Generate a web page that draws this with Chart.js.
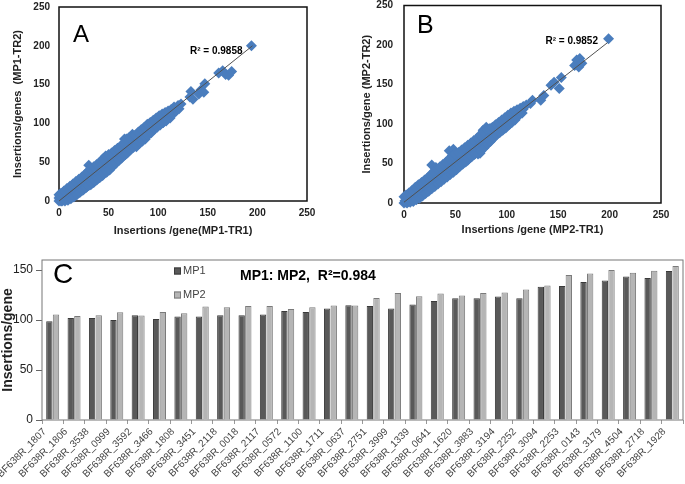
<!DOCTYPE html>
<html>
<head>
<meta charset="utf-8">
<script src="https://cdn.jsdelivr.net/npm/chart.js@4.4.1/dist/chart.umd.min.js"></script>
<style>
  html, body { margin: 0; padding: 0; background: #fff; }
  body { width: 685px; height: 484px; position: relative; overflow: hidden; }
  canvas { position: absolute; }
</style>
</head>
<body>
<canvas id="chartA" width="340" height="245" style="left:0;top:0"></canvas>
<canvas id="chartB" width="345" height="245" style="left:340px;top:0"></canvas>
<canvas id="chartC" width="685" height="234" style="left:0;top:250px"></canvas>
<script>
// valores
const pointsA = [
  [0,0],[1,2],[2,0],[0,4],[3,3],[1,6],[4,1],[5,6],[6,3],[7,9],[8,5],[9,12],[10,7],[11,15],[12,9],[13,5],
  [14,16],[15,12],[16,8],[17,19],[18,14],[19,11],[20,23],[21,17],[22,13],[23,26],[24,20],[25,15],[26,28],
  [27,22],[28,18],[29,31],[30,46],[31,25],[32,21],[33,34],[34,28],[35,24],[36,40],[37,31],[38,27],[39,43],
  [40,35],[41,30],[42,47],[43,38],[44,33],[45,52],[46,42],[47,57],[48,37],[49,51],[50,45],[51,40],[52,56],
  [53,49],[54,44],[55,60],[56,53],[57,48],[58,62],[59,56],[60,52],[61,66],[62,59],[63,55],[64,68],[65,62],
  [66,80],[67,60],[68,74],[69,67],[70,80],[71,65],[72,77],[73,70],[74,84],[75,72],[76,82],[77,74],[78,70],
  [79,85],[80,78],[81,74],[82,88],[83,81],[84,77],[85,92],[86,85],[87,80],[88,94],[89,87],[90,88],[91,96],
  [92,90],[93,92],[94,100],[95,95],[96,93],[97,104],[98,99],[99,96],[100,105],[101,101],[102,99],[103,107],
  [104,103],[105,101],[106,109],[107,105],[108,104],[110,112],[111,108],[112,107],[114,115],[115,112],
  [117,119],[118,116],[120,123],[121,119],[123,125],[132,134],[133,141],[135,131],[141,138],[143,143],
  [146,140],[147,151],[161,165],[165,168],[168,163],[171,162],[174,167],[194,200],
  // borda inferior e superior da nuvem
  [3,0],[6,0],[9,1],[12,3],[15,5],[18,8],[21,11],[24,14],[27,17],[30,20],[33,23],[36,26],[39,29],[42,32],
  [45,35],[48,38],[51,41],[54,45],[57,49],[60,52],[63,56],[66,59],[69,62],[72,66],[75,69],[78,72],[81,75],
  [84,78],[87,82],[90,85],[93,88],[96,92],[99,95],[102,98],[105,101],[108,103],
  [0,8],[2,10],[5,13],[8,16],[11,19],[14,22],[17,25],[20,28],[23,31],[26,34],[29,38],[32,42],[35,44],
  [38,47],[41,50],[44,54],[47,58],[50,60],[53,62],[56,65],[59,68],[62,71],[65,74],[68,80],[71,82],[74,86],
  [77,85],[80,89],[83,92],[86,95],[89,99],[92,101],[95,104],[98,107],[101,110],[104,112],[107,114],
  [110,116],[113,118],[116,121]
];
const pointsB = [
  [0,0],[1,3],[2,1],[3,5],[2,7],[4,2],[5,6],[6,10],[7,4],[8,12],[9,8],[10,15],[11,7],[12,13],[13,18],
  [14,10],[15,16],[16,21],[17,13],[18,19],[19,24],[20,15],[21,22],[22,27],[23,18],[24,25],[25,31],[26,21],
  [27,48],[28,28],[29,34],[30,24],[31,45],[32,31],[33,37],[34,28],[35,42],[36,34],[37,40],[38,31],[39,46],
  [40,37],[41,43],[42,34],[43,49],[44,66],[45,40],[46,52],[47,45],[48,68],[49,43],[50,56],[51,49],[52,62],
  [53,46],[54,58],[55,52],[56,63],[57,50],[58,61],[59,55],[60,67],[61,58],[62,54],[63,70],[64,62],[65,58],
  [66,73],[67,66],[68,61],[69,76],[70,69],[71,64],[72,79],[73,72],[74,63],[75,82],[76,75],[77,92],[78,71],
  [79,85],[80,96],[81,77],[82,90],[83,84],[84,94],[85,80],[86,93],[87,88],[88,85],[89,96],[90,91],[91,88],
  [92,99],[93,94],[94,91],[95,101],[96,97],[97,94],[98,104],[99,100],[100,97],[101,107],[102,103],[103,100],
  [104,110],[105,106],[107,111],[108,107],[110,114],[112,111],[113,117],[115,114],[116,119],[123,126],
  [125,130],[133,130],[136,136],[143,149],[146,153],[151,145],[153,159],[166,174],[168,181],[170,172],
  [171,183],[173,177],[199,208],
  // borda inferior e superior da nuvem
  [3,0],[6,1],[9,2],[12,4],[15,6],[18,9],[21,12],[24,15],[27,18],[30,21],[33,24],[36,27],[39,30],[42,33],
  [45,36],[48,39],[51,42],[54,46],[57,49],[60,52],[63,56],[66,59],[69,62],[72,62],[75,66],[78,70],[81,74],
  [84,78],[87,82],[90,86],[93,89],[96,92],[99,95],[102,99],[105,102],[108,105],
  [0,8],[2,10],[5,13],[8,16],[11,20],[14,23],[17,26],[20,29],[23,32],[26,36],[29,40],[32,43],[35,46],
  [38,49],[41,52],[44,56],[47,60],[50,62],[53,64],[56,67],[59,70],[62,73],[65,76],[68,79],[71,82],[74,86],
  [77,90],[80,93],[83,94],[86,96],[89,99],[92,102],[95,105],[98,108],[101,111],[104,114],[107,116],
  [110,118],[113,120],[116,122],[119,124]
];
const trendA = [[0, 0], [195, 200]];
const trendB = [[0, 1], [198, 203]];

const genes = [
  'BF638R_1807', 'BF638R_1806', 'BF638R_3538', 'BF638R_0999', 'BF638R_3592', 'BF638R_3466',
  'BF638R_1808', 'BF638R_3451', 'BF638R_2118', 'BF638R_0018', 'BF638R_2117', 'BF638R_0572',
  'BF638R_1100', 'BF638R_1711', 'BF638R_0637', 'BF638R_2751', 'BF638R_3999', 'BF638R_1339',
  'BF638R_0641', 'BF638R_1620', 'BF638R_3883', 'BF638R_3194', 'BF638R_2252', 'BF638R_3094',
  'BF638R_2253', 'BF638R_0143', 'BF638R_3179', 'BF638R_4504', 'BF638R_2718', 'BF638R_1928'
];
const mp1 = [98.7, 102, 102, 100, 104.7, 101, 103.4, 103.4, 104.7, 104.7, 105.4, 109, 108, 111.4, 114.8,
             114, 111.4, 115.4, 119, 121.8, 121.8, 123.5, 121.8, 133.2, 134, 138, 139.6, 143.6, 142, 149];
const mp2 = [105.4, 104, 104.7, 107.7, 104.4, 108, 106.7, 113.4, 112.8, 114, 114, 111, 112.8, 114.4, 114.4,
             122, 127, 123.8, 126.5, 124.5, 127, 127.5, 130.5, 134.6, 145, 146.6, 150, 147.3, 149.3, 154];
const yTicksC = [0, 50, 100, 150];

const FAMILY = '"Liberation Sans", Arial, sans-serif';
Chart.defaults.font.family = FAMILY;
Chart.defaults.color = '#222';

// moldura em volta da área do gráfico
function frame(color, width) {
    return {
        id: 'frame',
        beforeDatasetsDraw(chart) {
            const { ctx, chartArea: a } = chart;
            ctx.save();
            ctx.strokeStyle = color;
            ctx.lineWidth = width;
            ctx.strokeRect(a.left, a.top, a.right - a.left, a.bottom - a.top);
            ctx.restore();
        }
    };
}

// textos soltos (letra do painel, R²)
function notes(items) {
    return {
        id: 'notes',
        afterDraw(chart) {
            const { ctx, chartArea: a, scales } = chart;
            ctx.save();
            items.forEach(n => {
                let x, y;
                if (n.data) {
                    x = scales.x.getPixelForValue(n.x);
                    y = scales.y.getPixelForValue(n.y);
                } else {
                    x = a.left + n.x;
                    y = a.top + n.y;
                }
                ctx.font = n.font;
                ctx.fillStyle = n.color || '#000';
                ctx.textAlign = n.align || 'left';
                ctx.textBaseline = n.baseline || 'alphabetic';
                ctx.fillText(n.text, x, y);
            });
            ctx.restore();
        }
    };
}

function makeScatter(id, pts, trend, o) {
    new Chart(document.getElementById(id), {
        type: 'scatter',
        data: {
            datasets: [
                {
                    type: 'line',
                    data: trend.map(p => ({ x: p[0], y: p[1] })),
                    borderColor: '#505050',
                    borderWidth: 1,
                    pointRadius: 0,
                    showLine: true,
                    fill: false,
                    clip: false
                },
                {
                    data: pts.map(p => ({ x: p[0], y: p[1] })),
                    pointStyle: 'rectRot',
                    pointRadius: 5.5,
                    backgroundColor: '#4a7dbd',
                    borderColor: '#4a7dbd',
                    borderWidth: 0,
                    clip: false
                }
            ]
        },
        options: {
            responsive: false,
            animation: false,
            devicePixelRatio: 1,
            layout: { padding: { top: o.top, right: o.right, left: 0, bottom: 0 } },
            plugins: { legend: { display: false }, tooltip: { enabled: false } },
            scales: {
                x: {
                    type: 'linear', min: 0, max: 250,
                    ticks: { stepSize: 50, padding: 6, font: { size: 10, weight: 'bold' } },
                    grid: { display: false, drawTicks: false },
                    border: { display: false },
                    title: {
                        display: true, text: o.xTitle,
                        font: { size: 11, weight: 'bold' },
                        padding: { top: 0, bottom: o.xtPad }
                    },
                    afterFit(s) { s.height = o.xh; s.paddingLeft = 0; s.paddingRight = 0; }
                },
                y: {
                    type: 'linear', min: 0, max: 250,
                    ticks: { stepSize: 50, padding: o.ytick, font: { size: 10, weight: 'bold' } },
                    grid: { display: false, drawTicks: false },
                    border: { display: false },
                    title: {
                        display: true, text: o.yTitle,
                        font: { size: 11, weight: 'bold' },
                        padding: { top: o.ytPad, bottom: 0 }
                    },
                    afterFit(s) { s.width = o.yw; s.paddingTop = 0; s.paddingBottom = 0; }
                }
            }
        },
        plugins: [frame('#111', 1.5), notes(o.notes)]
    });
}

makeScatter('chartA', pointsA, trendA, {
    top: 7, right: 33, xh: 44, yw: 59, xtPad: 7.4, ytPad: 11.4, ytick: 9,
    xTitle: 'Insertions /gene(MP1-TR1)',
    yTitle: 'Insertions/genes  (MP1-TR2)',
    notes: [
        { data: true, x: 14, y: 205, text: 'A', font: '24px ' + FAMILY },
        { data: true, x: 185, y: 193, text: 'R² = 0.9858', font: 'bold 10px ' + FAMILY, align: 'right', baseline: 'middle' }
    ]
});

makeScatter('chartB', pointsB, trendB, {
    top: 5, right: 24, xh: 42, yw: 64, xtPad: 8.4, ytPad: 20, ytick: 11,
    xTitle: 'Insertions /gene (MP2-TR1)',
    yTitle: 'Insertions/gene (MP2-TR2)',
    notes: [
        { data: true, x: 12.6, y: 214.6, text: 'B', font: '25px ' + FAMILY },
        { data: true, x: 188.7, y: 204.5, text: 'R² = 0.9852', font: 'bold 10px ' + FAMILY, align: 'right', baseline: 'middle' }
    ]
});

// legenda desenhada dentro da área do gráfico C
const legendC = {
    id: 'legendC',
    afterDraw(chart) {
        const { ctx, chartArea: a } = chart;
        ctx.save();
        ctx.font = '11px ' + FAMILY;
        ctx.textBaseline = 'middle';
        chart.data.datasets.forEach((ds, i) => {
            const x = a.left + 132, y = a.top + 11 + i * 24;
            ctx.fillStyle = ds.backgroundColor;
            ctx.fillRect(x, y - 3.5, 7, 7);
            ctx.strokeStyle = ds.borderColor;
            ctx.lineWidth = 1;
            ctx.strokeRect(x + 0.5, y - 3, 6, 6);
            ctx.fillStyle = '#444';
            ctx.fillText(ds.label, x + 9, y);
        });
        ctx.restore();
    }
};

new Chart(document.getElementById('chartC'), {
    type: 'bar',
    data: {
        labels: genes,
        datasets: [
            { label: 'MP1', data: mp1, backgroundColor: '#595959', borderColor: '#3a3a3a', borderWidth: 1 },
            { label: 'MP2', data: mp2, backgroundColor: '#b5b5b5', borderColor: '#7a7a7a', borderWidth: 1 }
        ]
    },
    options: {
        responsive: false,
        animation: false,
        devicePixelRatio: 1,
        datasets: { bar: { categoryPercentage: 0.62, barPercentage: 0.96 } },
        layout: { padding: { top: 10, right: 2, left: 0, bottom: 0 } },
        plugins: { legend: { display: false }, tooltip: { enabled: false } },
        scales: {
            x: {
                ticks: {
                    autoSkip: false, maxRotation: 45, minRotation: 45,
                    color: '#444', font: { size: 10 }, padding: 2, labelOffset: -8
                },
                grid: { offset: true, drawOnChartArea: false, tickLength: 4, color: '#999' },
                border: { display: false },
                afterFit(s) { s.height = 64; s.paddingLeft = 0; s.paddingRight = 0; }
            },
            y: {
                min: 0, max: 160,
                ticks: { font: { size: 12 }, padding: 3 },
                grid: { drawOnChartArea: false, tickLength: 6, color: '#666' },
                border: { display: false },
                title: {
                    display: true, text: 'Insertions/gene',
                    font: { size: 14, weight: 'bold' },
                    padding: { top: 0, bottom: 0 }
                },
                afterBuildTicks(s) { s.ticks = yTicksC.map(v => ({ value: v })); },
                afterFit(s) { s.width = 42; s.paddingTop = 0; s.paddingBottom = 0; }
            }
        }
    },
    plugins: [
        frame('#777', 1),
        legendC,
        notes([
            { x: 11, y: 23, text: 'C', font: '28px ' + FAMILY },
            { x: 198, y: 16, text: 'MP1: MP2,  R²=0.984', font: 'bold 14px ' + FAMILY, baseline: 'middle' }
        ])
    ]
});
</script>
</body>
</html>
